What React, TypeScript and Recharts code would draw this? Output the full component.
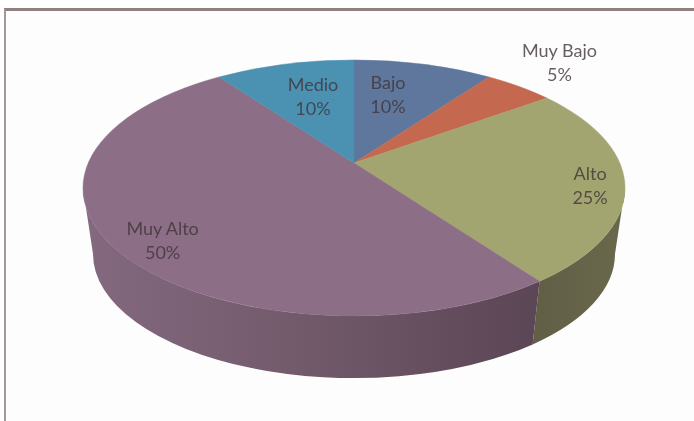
import { Pie, PieChart } from 'recharts';

const categories = ['Bajo', 'Muy Bajo', 'Alto', 'Muy Alto', 'Medio'];
const shares = [10, 5, 25, 50, 10];
const topColors = ['#5f779c', '#c4694f', '#a3a571', '#8c6e86', '#4b91b2'];
const wallFills = ['#4a5d7a', '#97513d', 'url(#wallAlto)', 'url(#wallMuyAlto)', '#3a7089'];

// label placement: fraction of the radius, then a small nudge in px
const labelRadius = [0.64, 1.2, 0.85, 0.8, 0.64];
const labelNudge = [[-13, -2], [12, -11], [7, 5], [-2, 13], [6, 0]];

const pieData = categories.map((name, i) => ({ name, value: shares[i] }));

const CX = 354;
const CY = 188;
const RX = 271;
const SQUASH = 128 / 271;
const TILT = 0.195; // moves the apex up from the ellipse centre, as in a perspective view
const DEPTH = 66;
const BOTTOM_RX = 261;
const BOTTOM_RY = 124;

const toRad = (deg: number) => (deg * Math.PI) / 180;

// clockwise from 12 o'clock on the real disc -> unit coords on the drawn ellipse
const project = (theta: number, r = 1) => {
  const u = r * Math.sin(toRad(theta));
  const v = r * Math.cos(toRad(theta));
  const den = 1 + TILT * v;
  return { x: (u * Math.sqrt(1 - TILT * TILT)) / den, y: (v + TILT) / den };
};

const ellipseAngle = (theta: number) => {
  const p = project(theta);
  let t = (Math.atan2(p.x, p.y) * 180) / Math.PI;
  if (t < 0) t += 360;
  if (theta > 0 && t === 0) t = 360;
  return t;
};

const ellipseAngleSpan = (from: number, sweep: number) => {
  const s = ellipseAngle(from);
  let e = ellipseAngle(from + sweep);
  if (e <= s) e += 360;
  return e - s;
};

const TopSlice = (props: any) => {
  const { cx, cy, outerRadius, startAngle, endAngle, fill } = props;
  const ry = outerRadius * SQUASH;
  const a = project(90 - startAngle);
  const b = project(90 - endAngle);
  const sweep = (90 - endAngle) - (90 - startAngle);
  const large = ellipseAngleSpan(90 - startAngle, sweep) > 180 ? 1 : 0;
  const apexY = cy - ry * TILT;
  const d = `M${cx},${apexY} L${cx + outerRadius * a.x},${cy - ry * a.y} A${outerRadius},${ry} 0 ${large} 1 ${cx + outerRadius * b.x},${cy - ry * b.y} Z`;
  return <path d={d} fill={fill} stroke={fill} strokeWidth={0.5} />;
};

const WallSlice = (props: any) => {
  const { cx, cy, outerRadius, startAngle, endAngle, index } = props;
  const ry = outerRadius * SQUASH;
  const s = ellipseAngle(90 - startAngle);
  let e = ellipseAngle(90 - endAngle);
  if (e <= s) e += 360;
  const t1 = Math.max(s, 90);
  const t2 = Math.min(e, 270);
  if (t2 <= t1) return <g />;
  const bottomCy = cy + DEPTH;
  const pt = (t: number, rx: number, r: number, y0: number) =>
    `${cx + rx * Math.sin(toRad(t))},${y0 - r * Math.cos(toRad(t))}`;
  const d = `M${pt(t1, outerRadius, ry, cy)} A${outerRadius},${ry} 0 0 1 ${pt(t2, outerRadius, ry, cy)} L${pt(t2, BOTTOM_RX, BOTTOM_RY, bottomCy)} A${BOTTOM_RX},${BOTTOM_RY} 0 0 0 ${pt(t1, BOTTOM_RX, BOTTOM_RY, bottomCy)} Z`;
  return <path d={d} fill={wallFills[index]} />;
};

const SliceLabel = (props: any) => {
  const { cx, cy, outerRadius, midAngle, index, name, percent } = props;
  const ry = outerRadius * SQUASH;
  const p = project(90 - midAngle, labelRadius[index]);
  const x = cx + outerRadius * p.x + labelNudge[index][0];
  const y = cy - ry * p.y + labelNudge[index][1];
  return (
    <text x={x} y={y} textAnchor="middle" fontFamily="Lato, sans-serif" fontSize={18} fill="#403438" fillOpacity={0.8}>
      <tspan x={x} dy={-5}>{name}</tspan>
      <tspan x={x} dy={24}>{`${Math.round(percent * 100)}%`}</tspan>
    </text>
  );
};

export default function App() {
  return (
    <div style={{ position: 'absolute', left: 0, top: 0, width: 694, height: 421, background: '#fff', overflow: 'hidden' }}>
      <div
        style={{
          position: 'absolute',
          left: 4,
          top: 8,
          width: 720,
          height: 440,
          boxSizing: 'border-box',
          background: '#fdfdfd',
          borderTop: '3px solid #8f827e',
          borderLeft: '2px solid #a4969a',
        }}
      />
      <div style={{ position: 'absolute', left: 0, top: 0, filter: 'blur(0.4px)' }}>
        <PieChart width={694} height={421} margin={{ top: 0, right: 0, bottom: 0, left: 0 }}>
          <defs>
            <linearGradient id="wallMuyAlto" x1="0" y1="0" x2="1" y2="0">
              <stop offset="0%" stopColor="#84697f" />
              <stop offset="45%" stopColor="#735b6c" />
              <stop offset="100%" stopColor="#5b4655" />
            </linearGradient>
            <linearGradient id="wallAlto" x1="0" y1="0" x2="1" y2="0">
              <stop offset="0%" stopColor="#605e45" />
              <stop offset="100%" stopColor="#6a684c" />
            </linearGradient>
          </defs>
          <Pie
            data={pieData}
            dataKey="value"
            nameKey="name"
            cx={CX}
            cy={CY}
            outerRadius={RX}
            startAngle={90}
            endAngle={-270}
            stroke="none"
            shape={WallSlice}
            isAnimationActive={false}
            legendType="none"
          />
          <Pie
            data={pieData.map((d, i) => ({ ...d, fill: topColors[i] }))}
            dataKey="value"
            nameKey="name"
            cx={CX}
            cy={CY}
            outerRadius={RX}
            startAngle={90}
            endAngle={-270}
            stroke="none"
            shape={TopSlice}
            label={SliceLabel}
            labelLine={false}
            isAnimationActive={false}
            legendType="none"
          />
        </PieChart>
      </div>
    </div>
  );
}
